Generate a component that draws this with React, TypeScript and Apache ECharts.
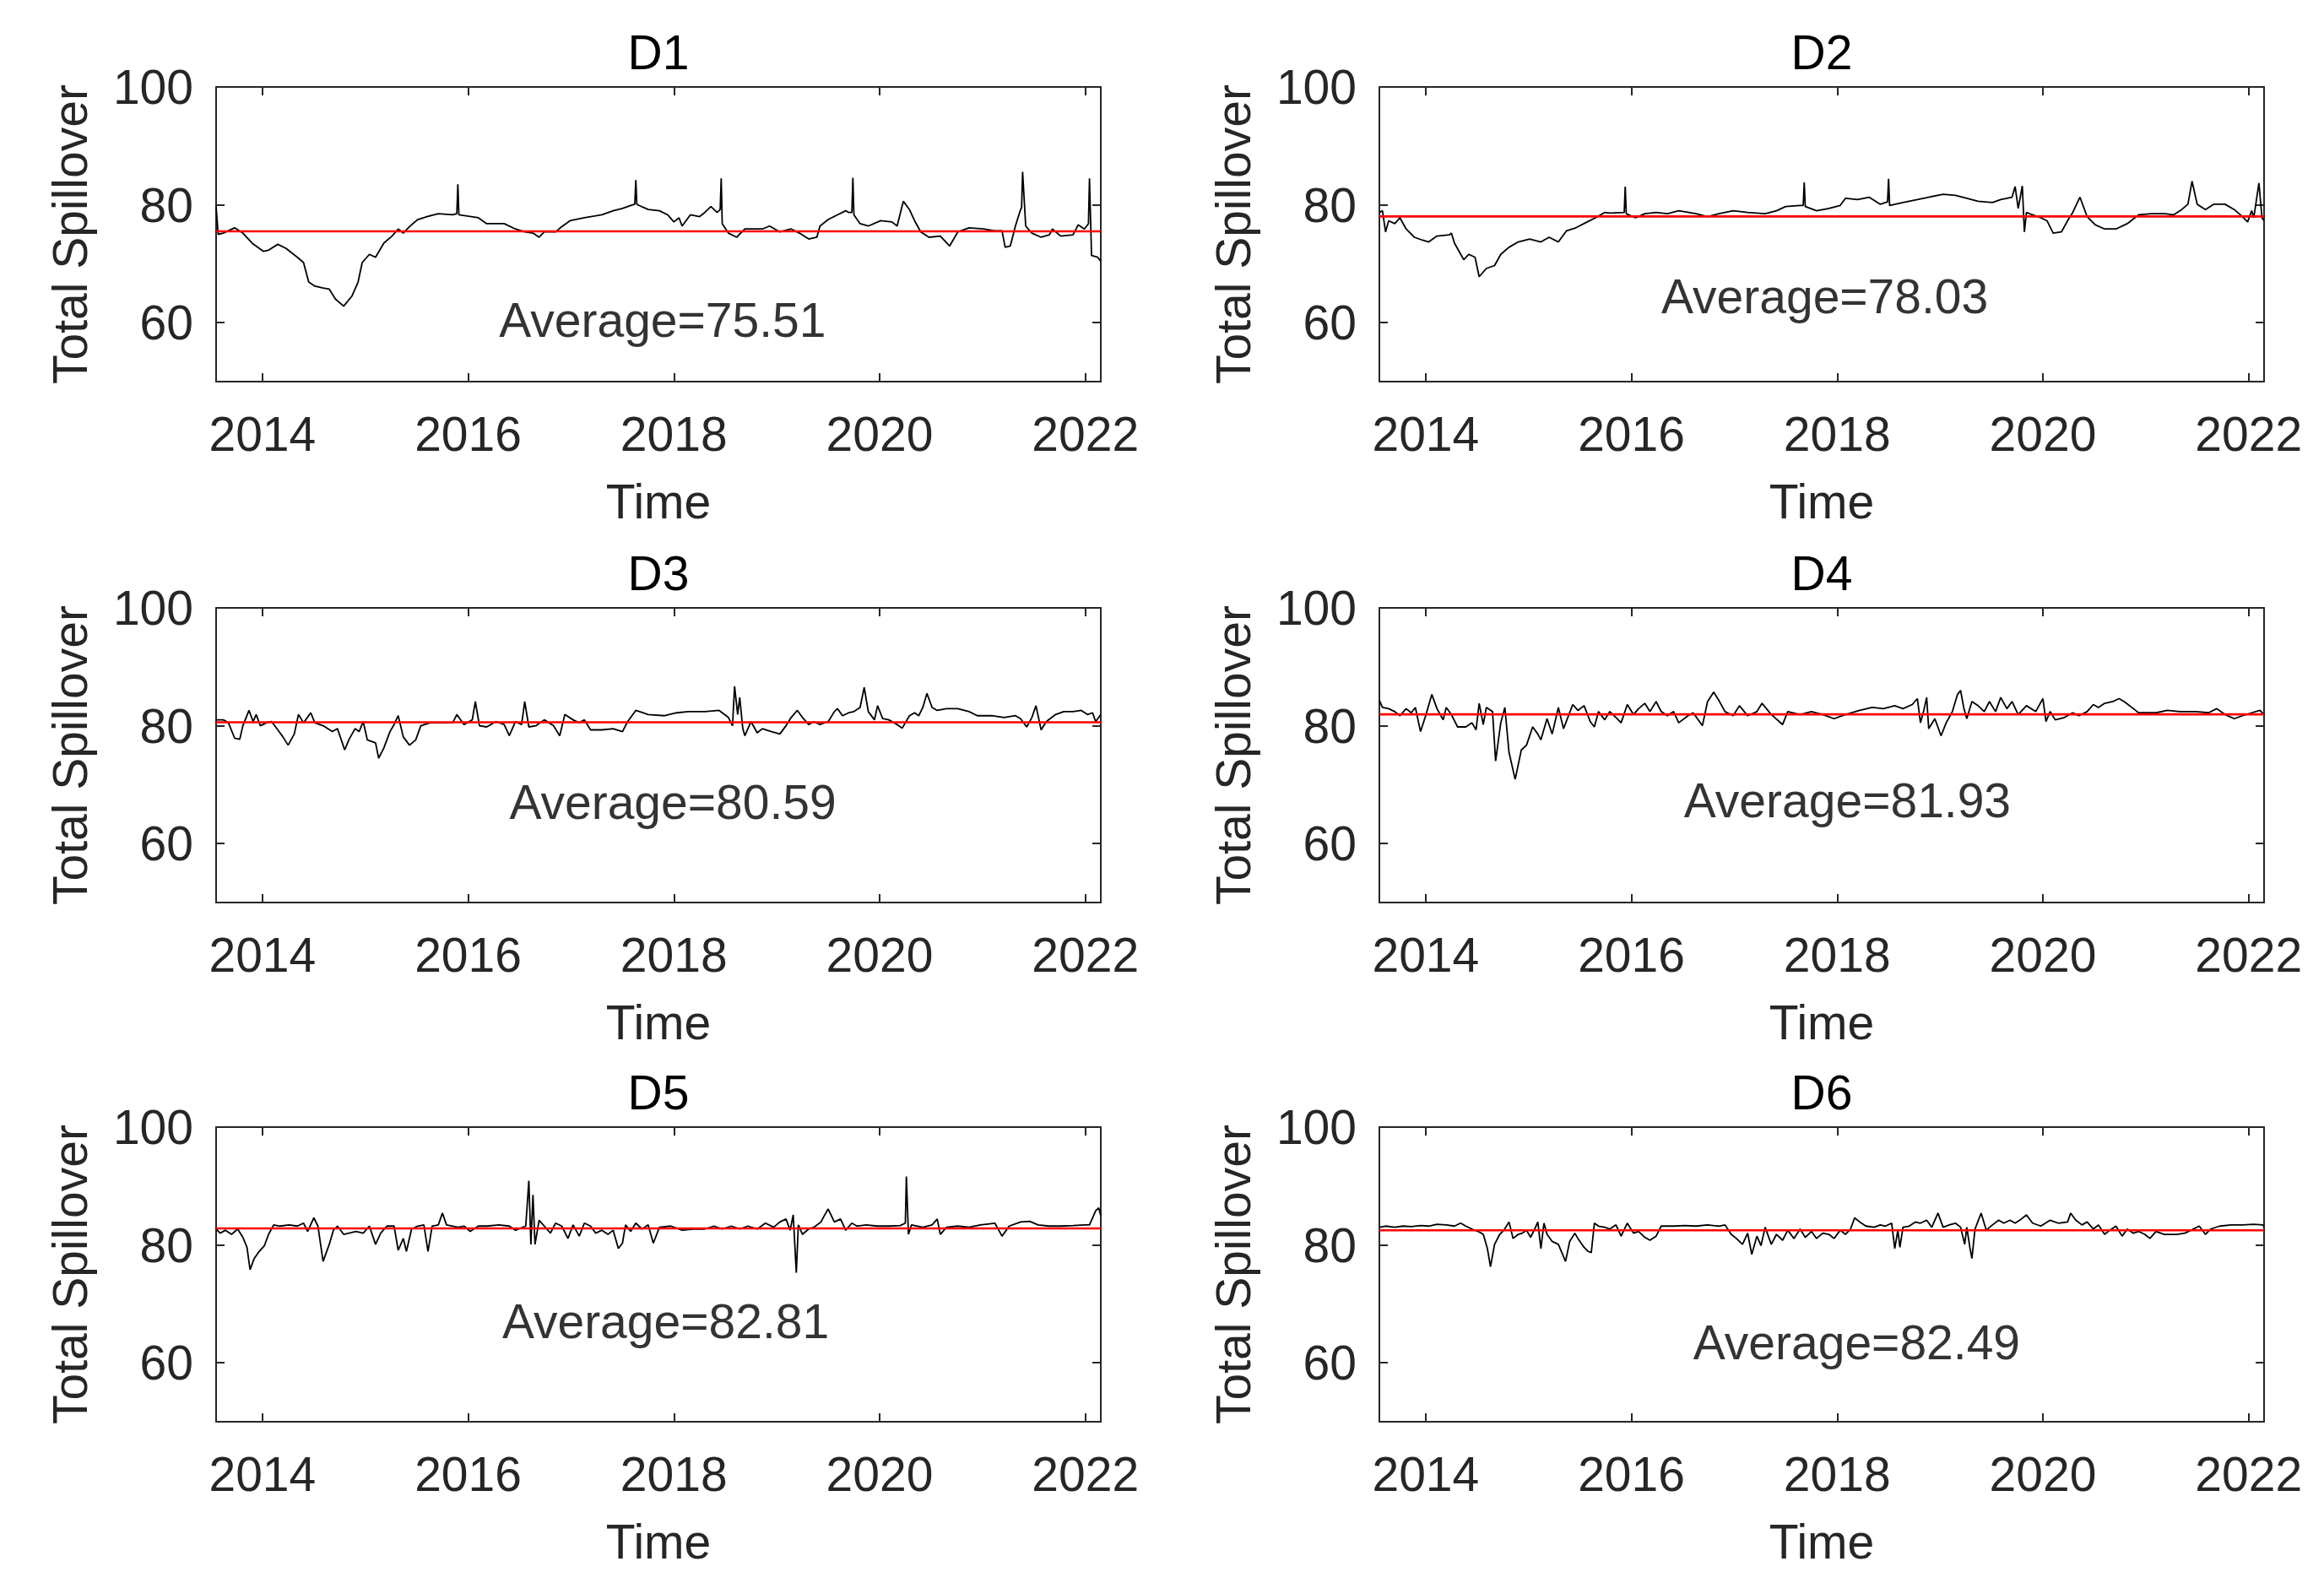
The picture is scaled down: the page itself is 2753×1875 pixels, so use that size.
import React, { useEffect, useRef } from "react";
import * as echarts from "echarts";

const X_MIN = 2013.55;
const X_MAX = 2022.15;
const yearTicks = [2014, 2016, 2018, 2020, 2022];
const valueTicks = [60, 80, 100];
const panelNames = ["D1", "D2", "D3", "D4", "D5", "D6"];
const averages = [75.51, 78.03, 80.59, 81.93, 82.81, 82.49];
const averageLabelAt = [
  [2017.89, 60.4],
  [2017.88, 64.4],
  [2017.99, 67.1],
  [2018.1, 67.4],
  [2017.92, 67.0],
  [2018.19, 63.5],
];

const d1 = [[2013.55,79.7],[2013.57,75.0],[2013.62,75.2],[2013.73,76.1],[2013.81,75.2],[2013.90,73.5],[2014.01,72.1],[2014.06,72.3],[2014.15,73.3],[2014.23,72.6],[2014.34,71.1],[2014.40,70.2],[2014.45,66.9],[2014.51,66.2],[2014.59,65.9],[2014.65,65.7],[2014.71,64.0],[2014.79,62.8],[2014.87,64.5],[2014.93,66.9],[2014.97,70.2],[2015.04,71.6],[2015.10,71.1],[2015.18,73.5],[2015.26,74.7],[2015.32,75.9],[2015.37,75.2],[2015.43,76.3],[2015.51,77.5],[2015.60,78.0],[2015.71,78.5],[2015.85,78.3],[2015.89,78.5],[2015.90,83.5],[2015.91,78.3],[2016.10,77.8],[2016.18,76.8],[2016.35,76.8],[2016.46,75.9],[2016.55,75.4],[2016.63,75.2],[2016.69,74.5],[2016.74,75.4],[2016.85,75.4],[2016.91,76.3],[2016.99,77.3],[2017.13,77.8],[2017.30,78.3],[2017.41,79.0],[2017.50,79.4],[2017.58,79.9],[2017.62,80.1],[2017.63,84.2],[2017.64,80.1],[2017.66,79.9],[2017.75,79.2],[2017.86,79.0],[2017.94,78.3],[2018.00,77.1],[2018.05,77.8],[2018.08,76.4],[2018.16,78.3],[2018.25,78.0],[2018.30,78.7],[2018.36,79.7],[2018.42,78.7],[2018.45,79.2],[2018.46,84.5],[2018.47,76.8],[2018.53,75.2],[2018.61,74.5],[2018.69,75.9],[2018.86,75.9],[2018.93,76.4],[2019.03,75.4],[2019.14,75.9],[2019.22,75.2],[2019.31,74.2],[2019.39,74.5],[2019.42,76.4],[2019.50,77.5],[2019.59,78.3],[2019.67,79.0],[2019.70,78.7],[2019.73,78.7],[2019.74,84.6],[2019.75,78.3],[2019.81,76.8],[2019.89,76.4],[2020.01,77.3],[2020.12,77.1],[2020.17,76.4],[2020.23,80.6],[2020.29,79.2],[2020.34,77.3],[2020.40,75.4],[2020.48,74.5],[2020.59,74.7],[2020.68,73.0],[2020.76,75.4],[2020.87,76.1],[2021.01,75.9],[2021.12,75.6],[2021.19,75.6],[2021.22,72.8],[2021.27,73.0],[2021.32,76.4],[2021.37,79.2],[2021.38,79.5],[2021.39,85.6],[2021.42,76.4],[2021.48,75.2],[2021.57,74.5],[2021.65,74.9],[2021.68,75.9],[2021.76,74.7],[2021.88,74.9],[2021.93,76.6],[2021.99,75.9],[2022.03,76.8],[2022.04,84.5],[2022.06,71.4],[2022.12,71.1],[2022.15,70.4]];

const d2 = [[2013.55,78.7],[2013.58,79.0],[2013.61,75.4],[2013.64,77.3],[2013.70,76.8],[2013.75,77.8],[2013.81,75.9],[2013.89,74.5],[2013.97,74.0],[2014.03,73.7],[2014.11,74.7],[2014.23,74.9],[2014.25,75.2],[2014.28,73.5],[2014.37,70.7],[2014.42,71.6],[2014.48,71.1],[2014.52,67.8],[2014.59,69.2],[2014.67,69.7],[2014.73,71.6],[2014.81,72.8],[2014.90,73.7],[2015.01,74.2],[2015.12,73.7],[2015.20,74.5],[2015.29,73.7],[2015.37,75.6],[2015.46,76.1],[2015.57,77.1],[2015.65,77.8],[2015.74,78.7],[2015.79,78.6],[2015.93,78.7],[2015.94,83.1],[2015.95,78.5],[2016.04,77.8],[2016.13,78.5],[2016.24,78.7],[2016.35,78.5],[2016.46,79.0],[2016.63,78.5],[2016.74,78.0],[2016.85,78.5],[2016.99,79.0],[2017.13,78.7],[2017.30,78.5],[2017.41,79.0],[2017.50,79.7],[2017.64,79.9],[2017.67,79.9],[2017.68,83.8],[2017.69,79.7],[2017.80,79.0],[2017.92,79.4],[2018.03,79.9],[2018.08,81.1],[2018.20,80.9],[2018.31,81.3],[2018.42,80.1],[2018.49,80.5],[2018.50,84.4],[2018.51,79.9],[2018.64,80.4],[2018.78,80.9],[2018.89,81.3],[2019.03,81.8],[2019.15,81.6],[2019.26,81.1],[2019.37,80.6],[2019.51,80.4],[2019.59,80.9],[2019.70,81.3],[2019.73,83.1],[2019.76,79.4],[2019.80,83.2],[2019.82,75.4],[2019.84,78.7],[2019.90,78.3],[2019.98,77.8],[2020.04,77.3],[2020.10,75.2],[2020.18,75.4],[2020.24,77.3],[2020.29,78.7],[2020.36,81.3],[2020.43,78.0],[2020.51,76.6],[2020.60,75.9],[2020.71,75.9],[2020.82,76.8],[2020.93,78.3],[2021.05,78.5],[2021.19,78.5],[2021.27,78.3],[2021.35,79.2],[2021.41,80.1],[2021.45,84.0],[2021.50,80.1],[2021.58,79.2],[2021.66,80.1],[2021.77,80.1],[2021.86,79.2],[2021.94,78.0],[2021.99,77.1],[2022.03,79.0],[2022.05,77.8],[2022.10,83.7],[2022.13,77.8],[2022.15,77.3]];

const d3 = [[2013.55,81.0],[2013.62,81.0],[2013.67,80.5],[2013.73,77.9],[2013.78,77.7],[2013.81,80.0],[2013.87,82.6],[2013.91,80.7],[2013.94,81.9],[2013.98,80.0],[2014.04,80.5],[2014.09,80.7],[2014.15,79.3],[2014.20,78.1],[2014.25,76.7],[2014.31,78.6],[2014.35,81.9],[2014.40,80.5],[2014.47,82.2],[2014.51,80.5],[2014.59,80.0],[2014.68,79.0],[2014.73,79.5],[2014.80,75.9],[2014.84,77.6],[2014.90,79.5],[2014.94,79.0],[2014.98,80.7],[2015.02,77.6],[2015.10,77.1],[2015.13,74.5],[2015.18,76.2],[2015.24,79.0],[2015.28,80.2],[2015.32,81.7],[2015.37,78.1],[2015.43,76.7],[2015.49,77.6],[2015.54,80.0],[2015.63,80.5],[2015.74,80.5],[2015.85,80.5],[2015.89,81.9],[2015.96,80.2],[2016.04,81.0],[2016.07,84.1],[2016.11,80.0],[2016.18,79.8],[2016.27,80.7],[2016.35,80.2],[2016.40,78.3],[2016.46,80.7],[2016.52,80.2],[2016.55,84.1],[2016.59,79.8],[2016.66,80.0],[2016.74,81.0],[2016.83,80.0],[2016.89,78.3],[2016.94,81.9],[2017.02,81.0],[2017.08,80.5],[2017.13,81.0],[2017.19,79.3],[2017.30,79.3],[2017.41,79.5],[2017.50,79.0],[2017.55,80.7],[2017.63,82.6],[2017.75,81.9],[2017.91,81.7],[2018.03,82.2],[2018.14,82.4],[2018.30,82.4],[2018.44,82.6],[2018.53,81.4],[2018.57,80.0],[2018.59,86.7],[2018.62,81.9],[2018.64,84.8],[2018.67,79.5],[2018.69,78.3],[2018.75,80.7],[2018.81,78.8],[2018.86,79.5],[2018.95,79.0],[2019.03,78.6],[2019.09,80.0],[2019.14,81.4],[2019.20,82.6],[2019.25,81.4],[2019.31,80.2],[2019.36,80.7],[2019.42,80.2],[2019.50,80.7],[2019.56,82.4],[2019.59,82.9],[2019.64,81.7],[2019.70,82.2],[2019.75,82.4],[2019.81,83.1],[2019.85,86.5],[2019.89,82.4],[2019.95,81.0],[2019.98,83.4],[2020.03,81.2],[2020.09,81.0],[2020.17,80.2],[2020.22,79.6],[2020.29,81.7],[2020.34,82.2],[2020.38,81.7],[2020.42,83.1],[2020.46,85.5],[2020.51,83.1],[2020.56,82.6],[2020.65,82.9],[2020.76,82.9],[2020.87,82.4],[2020.95,81.7],[2021.09,81.7],[2021.21,81.4],[2021.32,81.7],[2021.37,81.2],[2021.43,79.8],[2021.48,81.4],[2021.52,83.4],[2021.57,79.3],[2021.62,80.7],[2021.71,81.9],[2021.79,82.4],[2021.88,82.4],[2021.96,82.6],[2022.02,81.9],[2022.07,82.2],[2022.10,80.7],[2022.15,81.9]];

const d4 = [[2013.55,84.3],[2013.58,83.1],[2013.64,82.9],[2013.70,82.4],[2013.75,81.7],[2013.81,82.9],[2013.86,82.2],[2013.90,83.1],[2013.95,79.0],[2014.00,81.7],[2014.06,85.3],[2014.11,82.9],[2014.17,81.0],[2014.20,83.1],[2014.25,81.9],[2014.31,79.8],[2014.39,79.8],[2014.45,80.5],[2014.49,79.3],[2014.52,83.8],[2014.56,80.2],[2014.59,83.1],[2014.65,82.4],[2014.68,74.0],[2014.73,80.5],[2014.77,83.1],[2014.81,75.5],[2014.87,70.9],[2014.93,75.9],[2014.98,76.7],[2015.04,79.8],[2015.09,78.6],[2015.12,77.6],[2015.18,81.2],[2015.23,78.6],[2015.29,83.1],[2015.34,79.5],[2015.43,83.6],[2015.48,82.6],[2015.54,83.4],[2015.60,80.7],[2015.64,79.8],[2015.68,82.4],[2015.74,81.0],[2015.79,82.4],[2015.85,81.4],[2015.90,80.5],[2015.96,83.6],[2016.02,81.9],[2016.07,82.9],[2016.13,83.8],[2016.18,82.4],[2016.24,84.1],[2016.29,82.4],[2016.35,81.7],[2016.41,82.4],[2016.46,80.5],[2016.55,81.7],[2016.60,82.2],[2016.69,80.0],[2016.74,84.1],[2016.80,85.7],[2016.85,84.3],[2016.91,82.4],[2016.99,81.7],[2017.05,83.4],[2017.13,81.7],[2017.22,82.4],[2017.27,83.8],[2017.36,81.9],[2017.47,80.2],[2017.52,82.4],[2017.64,81.9],[2017.75,82.4],[2017.86,81.9],[2017.97,81.2],[2018.08,81.9],[2018.22,82.6],[2018.34,83.1],[2018.45,82.9],[2018.56,83.4],[2018.64,82.9],[2018.73,83.6],[2018.78,84.6],[2018.81,80.5],[2018.84,82.4],[2018.87,84.8],[2018.89,79.5],[2018.95,81.2],[2019.01,78.3],[2019.06,80.5],[2019.12,82.4],[2019.17,85.3],[2019.20,86.0],[2019.23,83.1],[2019.26,81.2],[2019.31,84.1],[2019.37,83.4],[2019.43,82.4],[2019.48,84.1],[2019.54,82.4],[2019.59,84.8],[2019.65,82.9],[2019.70,84.1],[2019.76,81.9],[2019.84,83.4],[2019.93,82.4],[2020.00,84.6],[2020.03,80.7],[2020.07,82.4],[2020.12,81.0],[2020.21,81.4],[2020.29,82.2],[2020.35,81.7],[2020.43,82.4],[2020.49,83.6],[2020.54,83.1],[2020.60,83.8],[2020.68,84.1],[2020.74,84.6],[2020.79,84.1],[2020.88,82.9],[2020.93,82.2],[2021.10,82.2],[2021.21,82.6],[2021.33,82.4],[2021.49,82.4],[2021.61,82.2],[2021.69,82.9],[2021.77,81.9],[2021.86,81.2],[2021.94,81.7],[2022.03,82.2],[2022.11,82.6],[2022.15,81.9]];

const d5 = [[2013.55,82.7],[2013.59,82.0],[2013.64,82.5],[2013.70,81.8],[2013.76,82.7],[2013.81,81.3],[2013.85,79.6],[2013.88,75.8],[2013.92,77.7],[2013.96,78.7],[2014.02,79.9],[2014.06,81.8],[2014.11,83.4],[2014.17,83.2],[2014.26,83.4],[2014.34,83.2],[2014.40,83.7],[2014.44,82.3],[2014.50,84.6],[2014.54,83.2],[2014.59,77.2],[2014.65,80.1],[2014.69,82.5],[2014.73,83.2],[2014.79,81.8],[2014.84,82.0],[2014.91,82.3],[2014.98,82.0],[2015.04,83.2],[2015.10,80.1],[2015.15,82.0],[2015.21,83.2],[2015.28,83.2],[2015.32,79.1],[2015.37,81.1],[2015.40,78.9],[2015.45,82.7],[2015.51,83.2],[2015.57,83.4],[2015.61,78.9],[2015.65,83.2],[2015.71,83.4],[2015.75,85.4],[2015.79,83.4],[2015.85,83.2],[2015.90,83.0],[2015.96,83.2],[2016.02,82.3],[2016.10,83.2],[2016.18,83.2],[2016.30,83.4],[2016.40,83.2],[2016.46,82.5],[2016.56,83.2],[2016.59,90.9],[2016.61,80.1],[2016.63,88.5],[2016.65,80.1],[2016.69,84.2],[2016.74,83.2],[2016.80,82.0],[2016.85,83.7],[2016.91,83.2],[2016.97,81.1],[2017.02,83.4],[2017.08,81.5],[2017.13,83.7],[2017.19,83.2],[2017.24,82.0],[2017.30,82.5],[2017.36,81.8],[2017.41,82.5],[2017.46,79.4],[2017.50,80.3],[2017.53,83.4],[2017.58,82.3],[2017.63,83.7],[2017.69,82.7],[2017.75,83.4],[2017.80,80.3],[2017.86,83.0],[2017.97,83.2],[2018.08,82.5],[2018.19,82.7],[2018.30,82.7],[2018.39,83.2],[2018.47,82.7],[2018.56,83.2],[2018.64,82.7],[2018.72,83.2],[2018.81,82.7],[2018.89,83.7],[2018.97,83.0],[2019.03,83.9],[2019.09,84.4],[2019.13,82.5],[2019.16,85.1],[2019.19,75.3],[2019.21,83.4],[2019.25,81.8],[2019.31,82.7],[2019.36,83.0],[2019.43,83.9],[2019.46,84.9],[2019.50,86.1],[2019.56,83.9],[2019.62,84.4],[2019.67,82.5],[2019.73,83.7],[2019.78,83.2],[2019.87,83.4],[2019.98,83.2],[2020.09,83.2],[2020.20,83.3],[2020.25,83.7],[2020.26,91.6],[2020.28,81.8],[2020.31,83.4],[2020.42,83.0],[2020.51,83.4],[2020.56,84.4],[2020.59,81.8],[2020.65,83.0],[2020.76,83.2],[2020.87,83.0],[2020.98,83.4],[2021.12,83.7],[2021.19,81.5],[2021.26,83.2],[2021.37,83.9],[2021.46,84.0],[2021.54,83.4],[2021.65,83.2],[2021.76,83.2],[2021.88,83.3],[2021.99,83.4],[2022.04,83.4],[2022.10,85.8],[2022.13,86.3],[2022.15,84.9]];

const d6 = [[2013.55,83.0],[2013.61,83.2],[2013.70,83.0],[2013.78,83.2],[2013.86,83.1],[2013.95,83.3],[2014.03,83.2],[2014.11,83.5],[2014.20,83.4],[2014.28,83.2],[2014.34,83.7],[2014.39,83.2],[2014.45,82.7],[2014.51,82.3],[2014.56,81.8],[2014.60,79.4],[2014.63,76.3],[2014.67,80.1],[2014.72,81.8],[2014.76,82.5],[2014.81,83.9],[2014.85,81.1],[2014.90,81.8],[2014.94,82.0],[2014.98,82.5],[2015.02,81.3],[2015.06,82.7],[2015.09,83.9],[2015.12,79.4],[2015.15,83.7],[2015.18,81.8],[2015.23,80.6],[2015.29,80.1],[2015.36,77.2],[2015.40,80.6],[2015.45,82.0],[2015.48,81.1],[2015.54,79.6],[2015.58,78.9],[2015.61,78.7],[2015.64,83.7],[2015.68,83.2],[2015.74,83.0],[2015.79,82.7],[2015.85,83.4],[2015.90,81.5],[2015.96,83.7],[2016.02,82.0],[2016.07,82.3],[2016.13,81.3],[2016.18,80.8],[2016.24,81.5],[2016.29,83.2],[2016.41,83.2],[2016.52,83.3],[2016.63,83.2],[2016.74,83.4],[2016.85,83.2],[2016.91,83.4],[2016.97,81.8],[2017.02,81.1],[2017.08,80.1],[2017.13,82.0],[2017.17,78.4],[2017.22,81.5],[2017.26,79.9],[2017.30,83.0],[2017.36,80.1],[2017.41,81.8],[2017.47,80.8],[2017.52,82.5],[2017.58,81.1],[2017.64,82.7],[2017.69,81.3],[2017.75,82.3],[2017.80,81.1],[2017.86,82.0],[2017.92,81.8],[2017.97,81.1],[2018.03,82.5],[2018.08,81.8],[2018.13,82.7],[2018.17,84.6],[2018.22,83.9],[2018.28,83.2],[2018.36,83.0],[2018.42,83.4],[2018.47,83.2],[2018.53,83.7],[2018.56,79.4],[2018.59,82.5],[2018.61,79.6],[2018.64,83.0],[2018.70,83.2],[2018.76,83.9],[2018.81,83.7],[2018.87,84.2],[2018.92,83.0],[2018.98,85.4],[2019.03,83.0],[2019.09,83.4],[2019.15,83.7],[2019.20,83.0],[2019.24,80.1],[2019.26,83.0],[2019.29,79.6],[2019.31,77.7],[2019.34,82.7],[2019.40,85.4],[2019.45,82.5],[2019.51,83.4],[2019.57,84.2],[2019.62,83.7],[2019.68,84.2],[2019.73,83.7],[2019.79,84.4],[2019.84,85.1],[2019.90,83.7],[2019.98,83.2],[2020.07,84.2],[2020.15,83.7],[2020.24,83.9],[2020.27,85.4],[2020.32,84.2],[2020.38,83.4],[2020.43,83.9],[2020.49,82.7],[2020.54,83.4],[2020.60,81.8],[2020.65,82.5],[2020.71,83.2],[2020.77,81.5],[2020.82,82.7],[2020.88,82.0],[2020.93,82.3],[2020.99,81.8],[2021.04,81.1],[2021.10,82.3],[2021.18,81.8],[2021.30,81.8],[2021.38,82.0],[2021.44,82.5],[2021.52,83.2],[2021.58,81.8],[2021.63,82.7],[2021.72,83.2],[2021.83,83.4],[2021.94,83.4],[2022.05,83.5],[2022.14,83.4],[2022.15,83.0]];

const seriesData = [d1, d2, d3, d4, d5, d6];

const FONT = "Liberation Sans, Arial, sans-serif";
const AXIS_COLOR = "#262626";
const FONT_SIZE = 57;
const COL_LEFT = [256, 1634];
const COL_W = 1048;
const ROW_TOP = [103, 720, 1335];
const ROW_H = 349;

function buildOption() {
  const grid: any[] = [];
  const xAxis: any[] = [];
  const yAxis: any[] = [];
  const series: any[] = [];
  const graphic: any[] = [];

  for (let i = 0; i < 6; i++) {
    const col = i % 2;
    const row = Math.floor(i / 2);
    const left = COL_LEFT[col];
    const top = ROW_TOP[row];
    grid.push({ left, top, width: COL_W, height: ROW_H, containLabel: false, show: false });

    const baseLine = { show: true, onZero: false, lineStyle: { color: AXIS_COLOR, width: 2 } };
    const tick = { show: true, inside: true, length: 10, lineStyle: { color: AXIS_COLOR, width: 2 } };

    xAxis.push({
      type: "value",
      gridIndex: i,
      position: "bottom",
      min: X_MIN,
      max: X_MAX,
      axisLine: baseLine,
      axisTick: { ...tick, customValues: yearTicks },
      axisLabel: {
        show: true,
        customValues: yearTicks,
        formatter: (v: number) => String(Math.round(v)),
        color: AXIS_COLOR,
        fontFamily: FONT,
        fontSize: FONT_SIZE,
        margin: 33,
      },
      splitLine: { show: false },
      name: "Time",
      nameLocation: "middle",
      nameGap: 113,
      nameTextStyle: { color: AXIS_COLOR, fontFamily: FONT, fontSize: FONT_SIZE },
    });
    xAxis.push({
      type: "value",
      gridIndex: i,
      position: "top",
      min: X_MIN,
      max: X_MAX,
      axisLine: baseLine,
      axisTick: { ...tick, customValues: yearTicks },
      axisLabel: { show: false },
      splitLine: { show: false },
    });
    yAxis.push({
      type: "value",
      gridIndex: i,
      position: "left",
      min: 50,
      max: 100,
      axisLine: baseLine,
      axisTick: { ...tick, customValues: valueTicks },
      axisLabel: {
        show: true,
        customValues: valueTicks,
        color: AXIS_COLOR,
        fontFamily: FONT,
        fontSize: FONT_SIZE,
        margin: 27,
      },
      splitLine: { show: false },
      name: "Total Spillover",
      nameLocation: "middle",
      nameGap: 145,
      nameTextStyle: { color: AXIS_COLOR, fontFamily: FONT, fontSize: FONT_SIZE },
    });
    yAxis.push({
      type: "value",
      gridIndex: i,
      position: "right",
      min: 50,
      max: 100,
      axisLine: baseLine,
      axisTick: { ...tick, customValues: valueTicks },
      axisLabel: { show: false },
      splitLine: { show: false },
    });

    const xi = i * 2;
    const yi = i * 2;

    series.push({
      type: "line",
      xAxisIndex: xi,
      yAxisIndex: yi,
      data: seriesData[i],
      showSymbol: false,
      symbol: "none",
      lineStyle: { color: "#000000", width: 1.8 },
      z: 2,
      silent: true,
    });
    series.push({
      type: "line",
      xAxisIndex: xi,
      yAxisIndex: yi,
      data: [
        [X_MIN, averages[i]],
        [X_MAX, averages[i]],
      ],
      showSymbol: false,
      symbol: "none",
      lineStyle: { color: "#ff0000", width: 2.6 },
      z: 3,
      silent: true,
    });
    series.push({
      type: "scatter",
      xAxisIndex: xi,
      yAxisIndex: yi,
      data: [averageLabelAt[i]],
      symbolSize: 1,
      itemStyle: { color: "rgba(0,0,0,0)" },
      label: {
        show: true,
        position: "inside",
        formatter: "Average=" + averages[i].toFixed(2),
        color: "#000000",
        fontFamily: FONT,
        fontSize: FONT_SIZE,
        align: "center",
        verticalAlign: "middle",
      },
      z: 4,
      silent: true,
    });

    graphic.push({
      type: "text",
      x: left + COL_W / 2,
      y: top - 41,
      style: {
        text: panelNames[i],
        fill: "#000000",
        font: `${FONT_SIZE}px ${FONT}`,
        align: "center",
        verticalAlign: "middle",
      },
    });
  }

  return {
    animation: false,
    backgroundColor: "#ffffff",
    grid,
    xAxis,
    yAxis,
    series,
    graphic,
  };
}

export default function App() {
  const ref = useRef<HTMLDivElement>(null);
  useEffect(() => {
    document.body.style.margin = "0";
    if (!ref.current) return;
    const chart = echarts.init(ref.current, undefined, { renderer: "svg" });
    chart.setOption(buildOption() as any);
    return () => {
      chart.dispose();
    };
  }, []);
  return <div ref={ref} style={{ width: 2753, height: 1875, background: "#fff" }} />;
}
